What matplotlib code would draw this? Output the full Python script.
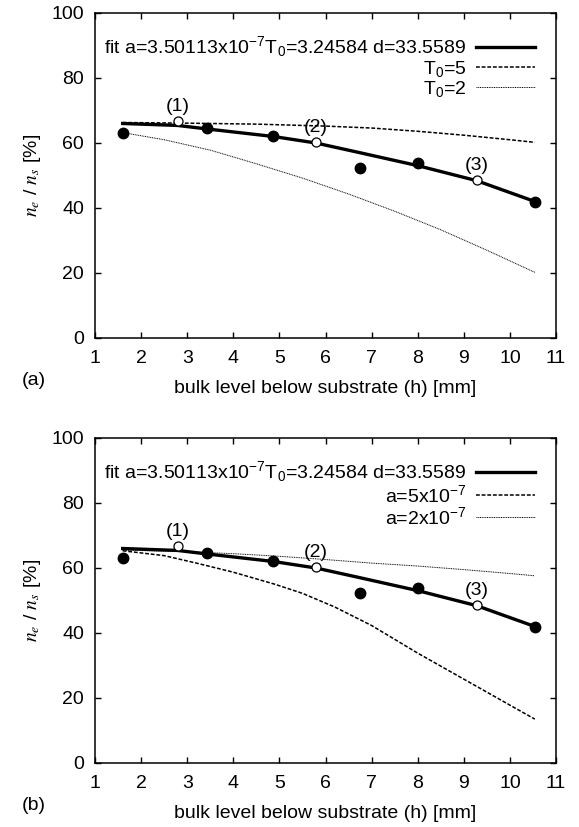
import numpy as np
import matplotlib
matplotlib.use("Agg")
import matplotlib.pyplot as plt

plt.rcParams['font.family'] = ['Liberation Sans', 'DejaVu Sans']
plt.rcParams['mathtext.fontset'] = 'custom'
plt.rcParams['mathtext.rm'] = 'Liberation Sans'
plt.rcParams['mathtext.it'] = 'Liberation Sans:italic'
plt.rcParams['font.size'] = 14

# measured points (same in both panels)
h_filled = [1.60, 3.44, 4.87, 6.75, 8.01, 10.54]
v_filled = [63.1, 64.5, 62.3, 52.4, 53.7, 41.8]
h_open = [2.79, 5.79, 9.28]
v_open = [66.7, 60.3, 48.7]
open_labels = ["(1)", "(2)", "(3)"]

# fit curve
h_fit = [1.6, 2.79, 3.44, 4.87, 5.79, 6.75, 8.01, 9.28, 10.54]
v_fit = [66.0, 65.4, 64.3, 62.0, 60.0, 57.0, 53.0, 48.4, 42.0]

# panel (a) comparison curves
h_t5 = [1.6, 3.0, 4.5, 6.0, 7.0, 8.0, 9.0, 10.0, 10.54]
v_t5 = [66.3, 66.1, 65.8, 65.2, 64.6, 63.6, 62.4, 61.0, 60.2]
h_t2 = [1.6, 2.5, 3.5, 4.5, 5.5, 6.5, 7.5, 8.5, 9.5, 10.54]
v_t2 = [63.2, 61.0, 57.8, 53.6, 49.2, 44.3, 39.0, 33.3, 27.0, 20.2]

# panel (b) comparison curves
h_a5 = [1.6, 2.5, 3.2, 4.0, 4.9, 5.5, 6.2, 7.0, 8.0, 9.0, 10.0, 10.54]
v_a5 = [65.3, 63.8, 61.5, 58.7, 55.0, 52.2, 48.0, 42.3, 33.8, 25.8, 17.8, 13.5]
h_a2 = [1.6, 3.0, 4.0, 5.0, 6.0, 7.0, 8.0, 9.0, 10.0, 10.54]
v_a2 = [65.5, 65.0, 64.4, 63.6, 62.6, 61.5, 60.6, 59.5, 58.3, 57.6]

fit_label = r"fit a=3.50113x10$^{\mathregular{-7}}$T$_{\mathregular{0}}$=3.24584 d=33.5589"

fig = plt.figure(figsize=(5.79, 8.27), dpi=100)
ax_a = fig.add_axes([0.1641, 0.5913, 0.7962, 0.3930])
ax_b = fig.add_axes([0.1641, 0.0774, 0.7962, 0.3930])

panels = [
    (ax_a, "(a)", (h_t5, v_t5, r"T$_{\mathregular{0}}$=5"), (h_t2, v_t2, r"T$_{\mathregular{0}}$=2")),
    (ax_b, "(b)", (h_a5, v_a5, r"a=5x10$^{\mathregular{-7}}$"), (h_a2, v_a2, r"a=2x10$^{\mathregular{-7}}$")),
]

for ax, tag, dash, dot in panels:
    ax.plot(h_fit, v_fit, color='black', lw=2.4, label=fit_label, zorder=3)
    ax.plot(dash[0], dash[1], color='black', lw=1.1, ls=(0, (2.5, 1.2)), label=dash[2], zorder=2)
    ax.plot(dot[0], dot[1], color='black', lw=0.7, ls=(0, (1, 0.8)), label=dot[2], zorder=2)
    ax.plot(h_filled, v_filled, 'o', color='black', ms=7.5, zorder=4)
    ax.plot(h_open, v_open, 'o', mfc='white', mec='black', mew=0.9, ms=6.5, zorder=5)
    for x, y, s in zip(h_open, v_open, open_labels):
        ax.text(x, y + 1.8, s, ha='center', va='bottom', fontsize=14)

    ax.set_xlim(1, 11)
    ax.set_ylim(0, 100)
    ax.set_xticks(range(1, 12))
    ax.set_yticks(range(0, 101, 20))
    ax.tick_params(direction='in', length=4.5, width=1, top=True, right=True, labelsize=14)
    ax.tick_params(axis='x', pad=9)
    ax.tick_params(axis='y', pad=8)
    for sp in ax.spines.values():
        sp.set_linewidth(1.1)
    ax.set_xlabel("bulk level below substrate (h) [mm]", fontsize=14, labelpad=9)
    ax.set_ylabel(r"$n_e$ / $n_s$ [%]", fontsize=14, labelpad=6, math_fontfamily='stix')
    ax.text(-0.16, -0.13, tag, transform=ax.transAxes, fontsize=14, ha='left', va='center')

    ax.legend(loc='upper right', frameon=False, markerfirst=False, handlelength=3.0,
              handletextpad=0.5, labelspacing=0.0, borderaxespad=0.7, fontsize=14)

fig.savefig("out.png", dpi=100)
